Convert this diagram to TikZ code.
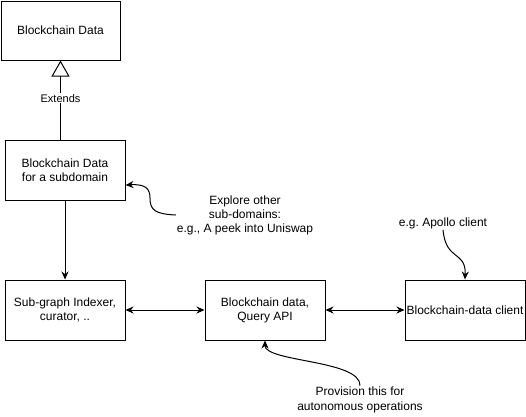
\documentclass[tikz,border=0pt]{standalone}
\usepackage{fontspec}
\setmainfont{Liberation Sans}
\frenchspacing
\usetikzlibrary{arrows.meta,calc}
\begin{document}
\begin{tikzpicture}[x=1pt,y=-1pt,
  box/.style={draw, line width=1pt, minimum width=120pt, minimum height=60pt, align=center, font=\fontsize{12}{14}\selectfont, inner sep=0pt},
  lbl/.style={align=center, font=\fontsize{12}{14}\selectfont, inner sep=1pt},
  conn/.style={line width=1pt, -{Stealth[length=8pt,width=7pt]}},
  both/.style={line width=1pt, {Stealth[length=8pt,width=7pt]}-{Stealth[length=8pt,width=7pt]}}
]
\useasboundingbox[fill=white] (0,0) rectangle (526,416);

\node[box, minimum width=119pt, minimum height=59pt] (b1) at (60.5,30.5) {Blockchain Data};
\node[box] (b2) at (65,170) {Blockchain Data\\for a subdomain};
\node[box] (b3) at (65,310) {Sub-graph Indexer,\\curator, ..};
\node[box] (b4) at (265,310) {Blockchain data,\\Query API};
\node[box] (b5) at (465,310) {Blockchain-data client};

\node[lbl] (explore) at (245,215) {Explore other\\sub-domains:\\e.g., A peek into Uniswap};
\node[lbl] (apollo) at (443,223) {e.g. Apollo client};
\node[lbl, font=\fontsize{12}{15}\selectfont] (prov) at (360,400) {Provision this for\\autonomous operations};

\draw[line width=1pt, -{Triangle[open, width=18pt, length=16pt]}] (b1.south |- b2.north) -- (b1.south)
  node[pos=0.52, fill=white, inner sep=1pt, font=\fontsize{11}{13}\selectfont] (ext) {Extends};

\draw[conn] (b2.south) -- (b3.north);
\draw[both] (b3.east) -- (b4.west);
\draw[both] (b4.east) -- (b5.west);

\draw[conn] (explore.west) .. controls (155,214) and (150,210) .. (150,198)
  .. controls (150,188) and (145,184) .. ($(b2.east)+(0,15)$);
\draw[conn] (apollo.south) .. controls (446,262) and (466,250) .. (b5.north);
\draw[conn] (prov.north) .. controls (361,360) and (265,362) .. (b4.south);
\end{tikzpicture}
\end{document}
